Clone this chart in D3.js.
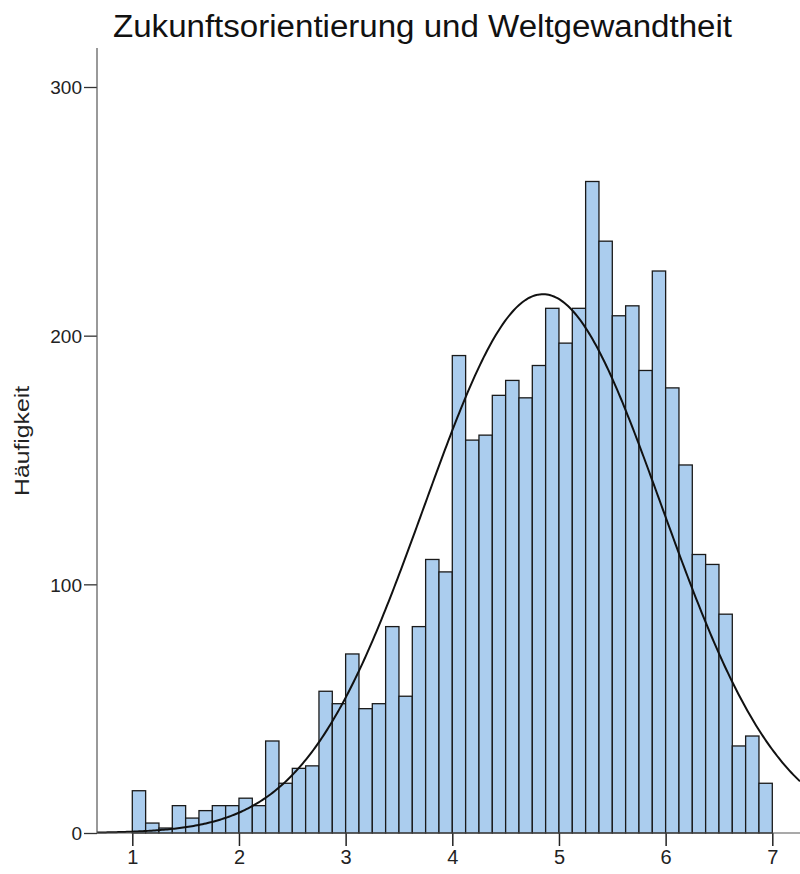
<!DOCTYPE html>
<html>
<head>
<meta charset="utf-8">
<script src="https://cdn.jsdelivr.net/npm/d3@7"></script>
<style>
  body { margin: 0; background: #fff; }
  svg { display: block; }
  text { font-family: "Liberation Sans", Arial, sans-serif; }
</style>
</head>
<body>
<svg id="chart" width="800" height="874"></svg>
<script>
// ---- Data ----
const title = "Zukunftsorientierung und Weltgewandtheit";
const yLabel = "Häufigkeit";
const binStart = 1;
const binWidth = 0.125;
const counts = [17, 4, 2, 11, 6, 9, 11, 11, 14, 11,
                37, 20, 26, 27, 57, 52, 72, 50, 52, 83,
                55, 83, 110, 105, 192, 158, 160, 176, 182, 175,
                188, 211, 197, 211, 262, 238, 208, 212, 186, 226,
                179, 148, 112, 108, 88, 35, 39, 20];
const xTicks = [1, 2, 3, 4, 5, 6, 7];
const yTicks = [0, 100, 200, 300];
const fitMean = 4.85;
const fitSD = 1.113;

// ---- Layout ----
const svg = d3.select("#chart");
const mLeft = 97, mRight = 800, mTop = 48, mBottom = 833;

const x = d3.scaleLinear().domain([1, 7]).range([132.3, 772.3]);
const xMin = x.invert(mLeft), xMax = x.invert(mRight);
const y = d3.scaleLinear().domain([0, 300]).range([mBottom, 87]);

const bins = counts.map((c, i) => ({x0: binStart + i * binWidth, x1: binStart + (i + 1) * binWidth, n: c}));
const N = d3.sum(counts);

// bars
svg.append("g").selectAll("rect").data(bins).join("rect")
  .attr("x", d => x(d.x0))
  .attr("y", d => y(d.n))
  .attr("width", d => x(d.x1) - x(d.x0))
  .attr("height", d => y(0) - y(d.n))
  .attr("fill", "#abcdee")
  .attr("stroke", "#1a1a1a")
  .attr("stroke-width", 1.3);

// normal curve
const pdf = v => Math.exp(-0.5 * ((v - fitMean) / fitSD) ** 2) / (fitSD * Math.sqrt(2 * Math.PI));
const curvePts = d3.range(0, 401).map(i => xMin + (xMax - xMin) * i / 400);
svg.append("path")
  .datum(curvePts)
  .attr("fill", "none")
  .attr("stroke", "#111")
  .attr("stroke-width", 2)
  .attr("d", d3.line().x(v => x(v)).y(v => y(N * binWidth * pdf(v))));

// axes
const yAxis = d3.axisLeft(y).tickValues(yTicks).tickSize(13).tickPadding(2).tickFormat(d3.format("d"));
const gy = svg.append("g").attr("transform", `translate(${mLeft},0)`).call(yAxis);
gy.select(".domain").remove();
svg.append("line").attr("x1", mLeft).attr("x2", mLeft).attr("y1", mTop).attr("y2", mBottom)
  .attr("stroke", "#555").attr("stroke-width", 1.2);
gy.selectAll(".tick line").attr("stroke", "#333").attr("stroke-width", 1.3);
gy.selectAll(".tick text").attr("font-size", 19).attr("fill", "#222").attr("dy", "0.36em");

const xAxis = d3.axisBottom(x).tickValues(xTicks).tickSize(13).tickPadding(4).tickFormat(d3.format("d"));
const gx = svg.append("g").attr("transform", `translate(0,${mBottom})`).call(xAxis);
gx.select(".domain").remove();
svg.append("line").attr("x1", mLeft).attr("x2", mRight).attr("y1", mBottom).attr("y2", mBottom)
  .attr("stroke", "#555").attr("stroke-width", 1.2);
gx.selectAll(".tick line").attr("stroke", "#222").attr("stroke-width", 1.5);
gx.selectAll(".tick text").attr("font-size", 20).attr("fill", "#222");

// title
svg.append("text")
  .attr("x", 422.5).attr("y", 37)
  .attr("text-anchor", "middle")
  .attr("font-size", 31)
  .attr("textLength", 619)
  .attr("lengthAdjust", "spacingAndGlyphs")
  .attr("fill", "#111")
  .text(title);

// y label
svg.append("text")
  .attr("transform", "translate(29,441) rotate(-90)")
  .attr("text-anchor", "middle")
  .attr("font-size", 20)
  .attr("textLength", 110)
  .attr("lengthAdjust", "spacingAndGlyphs")
  .attr("fill", "#222")
  .text(yLabel);
</script>
</body>
</html>
